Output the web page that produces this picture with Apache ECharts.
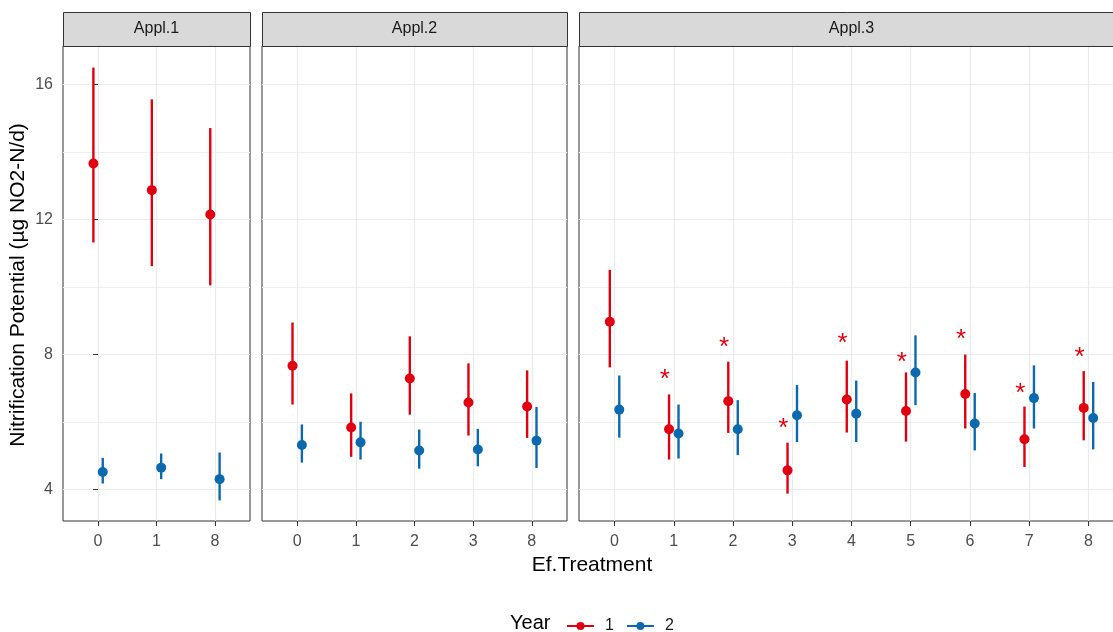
<!DOCTYPE html>
<html>
<head>
<meta charset="utf-8">
<script src="https://cdn.jsdelivr.net/npm/echarts@6/dist/echarts.min.js"></script>
<style>html,body{margin:0;padding:0;background:#fff}#chart{width:1113px;height:632px}</style>
</head>
<body>
<div id="chart"></div>
<script>
// ---- Data ----
const panels = ['Appl.1', 'Appl.2', 'Appl.3'];
const cats1 = ['0', '1', '8'];
const cats2 = ['0', '1', '2', '3', '8'];
const cats3 = ['0', '1', '2', '3', '4', '5', '6', '7', '8'];

const p1y1Mean = [13.66, 12.87, 12.15];
const p1y1Low  = [11.32, 10.62, 10.05];
const p1y1High = [16.50, 15.56, 14.71];
const p1y2Mean = [4.52, 4.65, 4.31];
const p1y2Low  = [4.18, 4.31, 3.68];
const p1y2High = [4.94, 5.07, 5.10];

const p2y1Mean = [7.67, 5.84, 7.29, 6.58, 6.46];
const p2y1Low  = [6.52, 4.97, 6.22, 5.60, 5.53];
const p2y1High = [8.95, 6.85, 8.54, 7.74, 7.53];
const p2y2Mean = [5.32, 5.40, 5.16, 5.19, 5.45];
const p2y2Low  = [4.80, 4.89, 4.62, 4.69, 4.64];
const p2y2High = [5.93, 6.01, 5.78, 5.80, 6.45];

const p3y1Mean = [8.97, 5.79, 6.62, 4.57, 6.67, 6.33, 6.83, 5.49, 6.42];
const p3y1Low  = [7.62, 4.89, 5.68, 3.88, 5.69, 5.42, 5.81, 4.67, 5.46];
const p3y1High = [10.51, 6.82, 7.79, 5.39, 7.82, 7.47, 8.00, 6.46, 7.51];
const p3y2Mean = [6.37, 5.66, 5.79, 6.20, 6.25, 7.47, 5.96, 6.71, 6.12];
const p3y2Low  = [5.54, 4.92, 5.02, 5.41, 5.41, 6.50, 5.16, 5.81, 5.19];
const p3y2High = [7.38, 6.52, 6.65, 7.10, 7.23, 8.57, 6.86, 7.68, 7.19];

// significance stars (Appl.3, year 1), y position
const p3Stars = [null, 7.39, 8.36, 5.96, 8.46, 7.91, 8.59, 6.99, 8.06];

const yMajor = [4, 8, 12, 16];
const yMinor = [6, 10, 14];
const years = ['1', '2'];

// ---- Styling ----
const RED = '#E0000F';
const BLUE = '#0B6AAE';
const FONT = 'Liberation Sans, Arial, sans-serif';
const Y_MIN = 3.07, Y_MAX = 17.14;
const DODGE = 0.08;

const grids = [
  { left: 63, top: 46, width: 187, height: 475 },
  { left: 262, top: 46, width: 305, height: 475 },
  { left: 579, top: 46, width: 545, height: 475 }
];
const catsList = [cats1, cats2, cats3];

const chart = echarts.init(document.getElementById('chart'), null, { renderer: 'canvas' });

const gridOpts = grids.map(g => Object.assign({ show: true, borderColor: '#333333', borderWidth: 1, backgroundColor: '#fff', containLabel: false, outerBoundsMode: 'none' }, g));

const xAxes = catsList.map((cats, i) => {
  const idx = cats.map((c, k) => k);
  return {
    type: 'value', gridIndex: i, min: -0.6, max: cats.length - 0.4,
    axisLine: { show: false },
    axisTick: { show: true, customValues: idx, length: 5, lineStyle: { color: '#333333', width: 1 } },
    axisLabel: { customValues: idx, formatter: v => cats[Math.round(v)], color: '#4D4D4D', fontSize: 16, fontFamily: FONT, margin: 13 },
    splitLine: { show: true, lineStyle: { color: '#EBEBEB', width: 1.2 } }
  };
});

const yAxes = [];
grids.forEach((g, i) => {
  yAxes.push({
    type: 'value', gridIndex: i, min: Y_MIN, max: Y_MAX,
    axisLine: { show: false },
    axisTick: { show: i === 0, customValues: yMajor, length: 5, lineStyle: { color: '#333333', width: 1 } },
    axisLabel: { show: i === 0, customValues: yMajor, color: '#4D4D4D', fontSize: 16, fontFamily: FONT, margin: 10 },
    splitLine: { show: true, lineStyle: { color: '#EBEBEB', width: 1.2 } }
  });
});
grids.forEach((g, i) => {
  yAxes.push({
    type: 'value', gridIndex: i, min: Y_MIN, max: Y_MAX, position: 'left',
    axisLine: { show: false },
    axisTick: { show: false, customValues: yMinor },
    axisLabel: { show: false, customValues: yMinor },
    splitLine: { show: true, lineStyle: { color: '#EFEFEF', width: 1 } }
  });
});

function errSeries(gi, offset, mean, low, high, color) {
  return {
    type: 'custom', xAxisIndex: gi, yAxisIndex: gi, z: 5,
    encode: { x: 0, y: [1, 2, 3] },
    data: mean.map((m, k) => [k + offset, m, low[k], high[k]]),
    renderItem: function (params, api) {
      const x = api.value(0);
      const p = api.coord([x, api.value(1)]);
      const lo = api.coord([x, api.value(2)]);
      const hi = api.coord([x, api.value(3)]);
      return {
        type: 'group',
        children: [
          { type: 'line', shape: { x1: lo[0], y1: lo[1], x2: hi[0], y2: hi[1] }, style: { stroke: color, lineWidth: 2.4 } },
          { type: 'circle', shape: { cx: p[0], cy: p[1], r: 5 }, style: { fill: color } }
        ]
      };
    }
  };
}

const starData = [];
p3Stars.forEach((v, k) => { if (v !== null) starData.push([k - 0.15, v]); });

const series = [
  { name: years[0], type: 'line', xAxisIndex: 0, yAxisIndex: 0, data: [], color: RED, symbol: 'circle', symbolSize: 9, lineStyle: { width: 2.4 } },
  { name: years[1], type: 'line', xAxisIndex: 0, yAxisIndex: 0, data: [], color: BLUE, symbol: 'circle', symbolSize: 9, lineStyle: { width: 2.4 } },
  errSeries(0, -DODGE, p1y1Mean, p1y1Low, p1y1High, RED),
  errSeries(0, DODGE, p1y2Mean, p1y2Low, p1y2High, BLUE),
  errSeries(1, -DODGE, p2y1Mean, p2y1Low, p2y1High, RED),
  errSeries(1, DODGE, p2y2Mean, p2y2Low, p2y2High, BLUE),
  errSeries(2, -DODGE, p3y1Mean, p3y1Low, p3y1High, RED),
  errSeries(2, DODGE, p3y2Mean, p3y2Low, p3y2High, BLUE),
  {
    type: 'custom', xAxisIndex: 2, yAxisIndex: 2, z: 6,
    encode: { x: 0, y: 1 },
    data: starData,
    renderItem: function (params, api) {
      const p = api.coord([api.value(0), api.value(1)]);
      return { type: 'text', x: p[0], y: p[1] + 5, style: { text: '*', fill: RED, font: '26px ' + FONT, align: 'center', verticalAlign: 'middle' } };
    }
  }
];

// strips + titles
const graphics = [];
grids.forEach((g, i) => {
  graphics.push({ type: 'rect', left: g.left, top: 12, shape: { width: g.width, height: 34 }, style: { fill: '#D9D9D9', stroke: '#333333', lineWidth: 1 }, z: 10 });
  graphics.push({ type: 'text', x: g.left + g.width / 2, y: 29, style: { text: panels[i], fill: '#1A1A1A', font: '16px ' + FONT, align: 'center', verticalAlign: 'middle' }, z: 11 });
});
graphics.push({ type: 'text', x: 592, y: 565, style: { text: 'Ef.Treatment', fill: '#000', font: '21px ' + FONT, align: 'center', verticalAlign: 'middle' } });
graphics.push({ type: 'text', x: 18, y: 285, rotation: Math.PI / 2, style: { text: 'Nitrification Potential (µg NO2-N/d)', fill: '#000', font: '21px ' + FONT, align: 'center', verticalAlign: 'middle' } });
graphics.push({ type: 'text', x: 510, y: 623, style: { text: 'Year', fill: '#000', font: '20px ' + FONT, align: 'left', verticalAlign: 'middle' } });

chart.setOption({
  animation: false,
  grid: gridOpts,
  xAxis: xAxes,
  yAxis: yAxes,
  legend: {
    data: years, left: 561, top: 613, itemWidth: 27, itemHeight: 10, itemGap: 12,
    textStyle: { fontSize: 16, fontFamily: FONT, color: '#1A1A1A', padding: [0, 0, 0, 6] },
    selectedMode: false
  },
  graphic: graphics,
  series: series
});
</script>
</body>
</html>
